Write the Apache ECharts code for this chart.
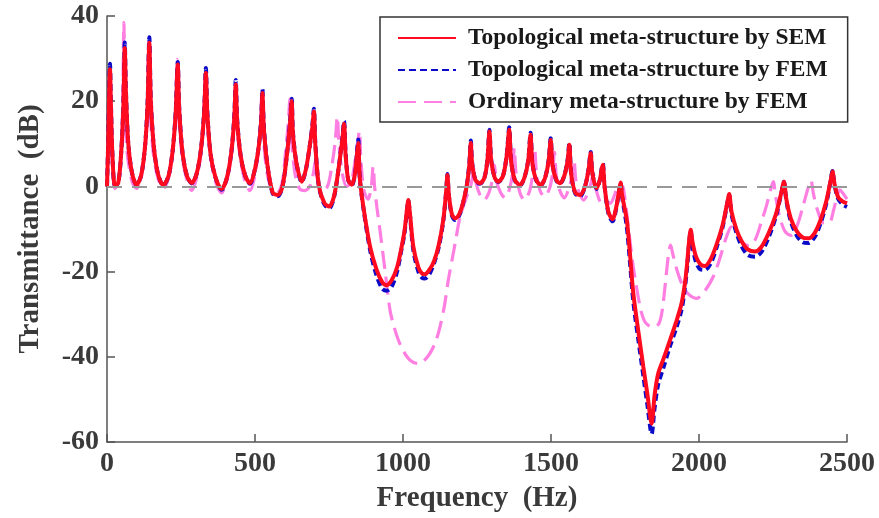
<!DOCTYPE html>
<html>
<head>
<meta charset="utf-8">
<script src="https://cdn.jsdelivr.net/npm/echarts@6.0.0/dist/echarts.min.js"></script>
<style>
  html, body { margin: 0; padding: 0; background: #fff; }
  #main { width: 879px; height: 518px; }
</style>
</head>
<body>
<div id="main"></div>
<script>
// frequency axis (Hz) for the topological meta-structure curves
var freqTopo = [
  0, 4, 8, 10, 13, 18, 27, 38, 48, 55, 60, 64, 72, 85, 100, 115, 128, 137, 143, 148,
  158, 172, 190, 208, 222, 232, 239, 244, 255, 270, 286, 303, 318, 328, 334, 339, 350, 367, 387, 405,
  420, 430, 435, 440, 452, 467, 483, 498, 512, 521, 525, 530, 542, 560, 577, 593, 608, 618, 624, 628,
  640, 658, 672, 685, 694, 699, 704, 716, 735, 751, 768, 784, 795, 801, 806, 815, 827, 838, 845, 849,
  854, 866, 889, 911, 930, 945, 962, 980, 993, 1005, 1014, 1018, 1023, 1035, 1052, 1065, 1074, 1090, 1105, 1120,
  1136, 1146, 1150, 1155, 1165, 1176, 1190, 1202, 1215, 1224, 1229, 1234, 1245, 1260, 1275, 1285, 1292, 1298, 1310, 1322,
  1338, 1350, 1359, 1365, 1378, 1395, 1410, 1423, 1431, 1437, 1450, 1465, 1480, 1492, 1499, 1505, 1518, 1530, 1545, 1556,
  1562, 1568, 1582, 1598, 1615, 1627, 1634, 1640, 1654, 1665, 1671, 1675, 1681, 1694, 1708, 1720, 1730, 1735, 1740, 1756,
  1767, 1778, 1795, 1812, 1826, 1840, 1850, 1862, 1880, 1902, 1922, 1941, 1952, 1960, 1967, 1972, 1978, 1990, 2005, 2020,
  2040, 2060, 2080, 2095, 2102, 2110, 2127, 2145, 2165, 2189, 2210, 2235, 2260, 2278, 2287, 2295, 2310, 2330, 2350, 2369,
  2390, 2410, 2430, 2445, 2451, 2458, 2470, 2485, 2500
];
// Topological meta-structure by SEM (dB)
var topoSEM = [
  0, 10, 24, 27.5, 20, 8, 0.2, 0.8, 8, 18, 32.5, 22, 10, 3, 0.4, 2.5, 9, 19, 33.7, 20,
  9.5, 3, 0.3, 2.5, 8.5, 17, 28.6, 18, 8, 2.5, 0.8, 3, 9, 17, 26.6, 17, 7.5, 2, -0.6, 2,
  8, 16, 23.9, 15, 7, 2.5, 0.75, 3.5, 9, 15.5, 21.9, 13.5, 5, -1.5, -2, 0, 7.5, 14.5, 20, 12.5,
  5.5, 1.1, 4, 9.5, 14, 17.6, 9.5, 0, -4, -4.7, -2, 5, 11, 14.7, 7.5, 1.5, 0.4, 3, 8, 10.2,
  2, -4.7, -14.2, -19.6, -22.5, -23.2, -22, -19, -15, -10.5, -5, -3.2, -6, -14.2, -19, -20.5, -20.6, -19.5, -17.5, -14,
  -7.9, -1, 2.7, -2, -6.5, -7.5, -6.5, -4, 0, 5, 10.2, 5, 1.5, 0.75, 2, 6, 12.9, 6, 2, 1.1,
  2.5, 7, 13.3, 6, 1.5, 0.35, 2, 6, 12.1, 5.5, 1.5, 0.35, 2, 6, 10.9, 5, 1.5, 0.75, 2.5, 6,
  9.8, 3, -1.5, -2, 0, 4, 7.8, 3, -0.4, 1.5, 4, 5.1, 0, -6, -7.7, -5, -1, 0.9, -2, -7.9,
  -16, -25.1, -34, -42.4, -49, -55.7, -49, -44, -40.5, -36.1, -32, -27.5, -23, -18, -12.5, -10.2, -13, -16.5, -18.3, -18.7,
  -17, -13.5, -9, -4, -1.8, -6, -10.2, -13, -14.8, -15.3, -14.3, -11, -6.5, -1.5, 1.1, -3, -7.5, -10.5, -12, -12.2,
  -11, -8, -3.5, 1.5, 3.5, 0.5, -2.5, -3.5, -4
];
// Topological meta-structure by FEM (dB)
var topoFEM = [
  0, 10.5, 25, 28.8, 20.5, 8, 0.1, 0.8, 8, 18.5, 33.8, 22.5, 10, 3, 0.3, 2.5, 9, 19.5, 35, 20.5,
  9.5, 3, 0.2, 2.5, 8.5, 17.5, 29.2, 18.5, 8, 2.5, 0.7, 3, 9, 17.5, 27.8, 17.5, 7.5, 2, -0.8, 2,
  8, 16.5, 25, 15.5, 7, 2.5, 0.6, 3.5, 9, 16, 22.8, 14, 5, -1.7, -2.3, 0, 7.5, 15, 20.6, 13,
  5.5, 1, 4, 9.5, 14.5, 18.2, 10, 0, -4.3, -5.1, -2.2, 5, 11.5, 15.3, 8, 1.5, 0.3, 3, 8.5, 11,
  2, -5, -15, -21, -24, -24.5, -23.5, -20, -15.5, -11, -5.2, -3.4, -6.3, -15, -20, -21.5, -21.6, -20.5, -18, -14.5,
  -8.2, -1, 2.9, -2.2, -6.8, -7.9, -6.8, -4.2, 0, 5.3, 10.8, 5.3, 1.5, 0.6, 2, 6.2, 13.3, 6.2, 2, 1,
  2.5, 7.2, 13.9, 6.2, 1.4, 0.2, 2, 6.2, 12.6, 5.7, 1.4, 0.2, 2, 6.2, 11.3, 5.2, 1.4, 0.6, 2.5, 6.2,
  10.2, 3.1, -1.7, -2.3, 0, 4.1, 8.1, 3.1, -0.6, 1.5, 4.1, 5.4, 0, -6.3, -8.2, -5.3, -1.1, 0.8, -2.3, -9.5,
  -18, -27, -36, -44.5, -51.5, -58.1, -52, -46.5, -42.5, -37.5, -33.5, -29, -24, -19, -13, -10.5, -14, -17.8, -19.5, -19.6,
  -18, -14.2, -9.5, -4.2, -2, -6.6, -11, -14.2, -16.1, -16.5, -15.5, -12, -7, -1.6, 1.1, -3.3, -8.2, -11.5, -13.1, -13.3,
  -12, -8.8, -4, 1.4, 3.6, 0.3, -2.9, -4.2, -4.8
];
// Ordinary meta-structure by FEM
var freqOrd = [
  0, 5, 9, 12, 18, 27, 40, 48, 53, 57, 61, 68, 85, 100, 115, 128, 136, 141, 146, 156,
  172, 190, 208, 222, 231, 237, 242, 254, 270, 286, 303, 318, 327, 333, 338, 350, 367, 387, 405, 420,
  429, 434, 439, 452, 467, 483, 498, 511, 519, 523, 528, 540, 558, 575, 592, 603, 612, 618, 623, 635,
  650, 668, 685, 697, 704, 710, 725, 745, 760, 771, 778, 784, 795, 810, 825, 838, 848, 853, 858, 868,
  882, 893, 899, 904, 912, 922, 939, 956, 970, 984, 1000, 1024, 1052, 1070, 1091, 1110, 1125, 1140, 1153, 1165,
  1176, 1193, 1215, 1230, 1240, 1246, 1260, 1274, 1290, 1302, 1309, 1315, 1330, 1345, 1360, 1370, 1376, 1382, 1395, 1410,
  1428, 1438, 1445, 1451, 1463, 1478, 1495, 1505, 1512, 1518, 1530, 1545, 1560, 1571, 1578, 1584, 1595, 1610, 1625, 1636,
  1643, 1650, 1662, 1672, 1688, 1700, 1715, 1728, 1742, 1750, 1762, 1778, 1801, 1815, 1829, 1850, 1866, 1876, 1886, 1896,
  1904, 1912, 1925, 1940, 1960, 1992, 2020, 2048, 2070, 2093, 2110, 2125, 2145, 2170, 2190, 2210, 2228, 2243, 2251, 2258,
  2272, 2290, 2310, 2330, 2350, 2368, 2378, 2386, 2400, 2420, 2440, 2455, 2468, 2476, 2485, 2500
];
var ordFEM = [
  0, 12, 26, 16, 6, -0.5, 1, 8, 19, 38.5, 18, 8, 1, -0.5, 2, 8, 18, 34, 18, 8,
  2, -0.5, 2, 8, 17, 29.8, 17, 7, 1.5, -1, 2, 8, 17, 27, 16, 7, 1, -1.5, 1.5, 7,
  15, 24.5, 14, 6, 1, -1, 2, 8, 15, 22, 12, 3.5, -1, -1.5, 1, 8, 14.5, 20.5, 11.5, 3,
  -0.5, -1, 0, 3, 6, 2, -1, 0, 5, 10.5, 16.4, 9.5, 3, 0, 1, 6, 11, 13, 6, -1,
  -3, 0, 4.7, 0, -5, -10.2, -19.6, -29, -33, -36, -38.5, -40.8, -41.6, -41, -39.2, -36.5, -33, -28, -22, -17.5,
  -13.4, -7.1, -2.4, 0.5, 4, 1, -2, -3.2, -1.5, 1.5, 5, 1.5, -1.5, -2.7, -0.5, 3, 9, 3, -1.5, -3.2,
  -1, 3, 9, 3, -1, -2.4, -0.5, 3, 8, 2.5, -1, -2.7, -0.5, 2.5, 6, 1.5, -1.5, -3.2, -1.5, 1,
  3, 0, -3, -4, -3.5, -4, -2, 0.5, 0, -3, -10, -18.9, -28.3, -31.5, -32.6, -33, -32, -29, -23, -16.5,
  -13.8, -16, -19.5, -22.5, -25, -26.3, -24.5, -21.2, -17, -11.8, -9.5, -10.5, -13, -14, -12.5, -8.5, -4.5, -0.5, 1.1, -2,
  -7, -10.5, -11.5, -9.5, -5, -0.5, 1.5, -1.5, -5.5, -8.5, -8.5, -5.5, -2, -0.8, -1.5, -3
];
var xTicks = [0, 500, 1000, 1500, 2000, 2500];
var yTicks = [-60, -40, -20, 0, 20, 40];

function pairs(xs, ys) {
  return xs.map(function (x, i) { return [x, ys[i]]; });
}

var serifFont = '"Liberation Serif", "Times New Roman", serif';
var axisColor = '#555';
var labelColor = '#3a3a3a';

var chart = echarts.init(document.getElementById('main'));
chart.setOption({
  animation: false,
  backgroundColor: '#fff',
  grid: { left: 107, right: 32, top: 16, bottom: 76 },
  legend: {
    data: ['Topological meta-structure by SEM', 'Topological meta-structure by FEM', 'Ordinary meta-structure by FEM'],
    orient: 'vertical',
    left: 380,
    top: 17,
    padding: [9, 20, 8, 17],
    itemWidth: 58,
    itemHeight: 14,
    itemGap: 8,
    borderColor: '#333',
    borderWidth: 1.5,
    backgroundColor: '#fff',
    itemStyle: { opacity: 0 },
    textStyle: { fontFamily: serifFont, fontWeight: 'bold', fontSize: 23.5, color: '#1a1a1a', lineHeight: 24, padding: [0, 0, 0, 7] }
  },
  xAxis: {
    type: 'value',
    min: xTicks[0],
    max: xTicks[xTicks.length - 1],
    interval: 500,
    name: 'Frequency  (Hz)',
    nameLocation: 'middle',
    nameGap: 42,
    nameTextStyle: { fontFamily: serifFont, fontWeight: 'bold', fontSize: 29, color: '#3a3a3a' },
    axisLine: { show: true, onZero: false, lineStyle: { color: axisColor, width: 1.5 } },
    axisTick: { show: true, inside: true, length: 8, lineStyle: { color: axisColor, width: 1.5 } },
    axisLabel: {
      fontFamily: serifFont, fontWeight: 'bold', fontSize: 28, color: labelColor, margin: 8,
      formatter: function (v) { return String(v); }
    },
    splitLine: { show: false }
  },
  yAxis: {
    type: 'value',
    min: yTicks[0],
    max: yTicks[yTicks.length - 1],
    interval: 20,
    name: 'Transmittance  (dB)',
    nameLocation: 'middle',
    nameGap: 62,
    nameTextStyle: { fontFamily: serifFont, fontWeight: 'bold', fontSize: 29, color: '#3a3a3a' },
    axisLine: { show: true, onZero: false, lineStyle: { color: axisColor, width: 1.5 } },
    axisTick: { show: true, inside: true, length: 8, lineStyle: { color: axisColor, width: 1.5 } },
    axisLabel: { fontFamily: serifFont, fontWeight: 'bold', fontSize: 28, color: labelColor, margin: 8 },
    splitLine: { show: false }
  },
  series: [
    {
      name: 'Ordinary meta-structure by FEM',
      type: 'line',
      z: 1,
      symbol: 'none',
      smooth: 0.3,
      data: pairs(freqOrd, ordFEM),
      lineStyle: { color: '#ff7ee2', width: 3.2, type: [18, 8] },
      itemStyle: { color: '#ff7ee2' },
      markLine: {
        silent: true,
        symbol: 'none',
        label: { show: false },
        lineStyle: { color: '#999', width: 1.8, type: [15, 10] },
        data: [{ yAxis: 0 }]
      }
    },
    {
      name: 'Topological meta-structure by FEM',
      type: 'line',
      z: 2,
      symbol: 'none',
      smooth: 0.3,
      data: pairs(freqTopo, topoFEM),
      lineStyle: { color: '#0a0ac8', width: 4, type: [7, 4] },
      itemStyle: { color: '#0a0ac8' }
    },
    {
      name: 'Topological meta-structure by SEM',
      type: 'line',
      z: 3,
      symbol: 'none',
      smooth: 0.3,
      data: pairs(freqTopo, topoSEM),
      lineStyle: { color: '#ff0a1e', width: 4 },
      itemStyle: { color: '#ff0a1e' }
    }
  ]
});
</script>
</body>
</html>
